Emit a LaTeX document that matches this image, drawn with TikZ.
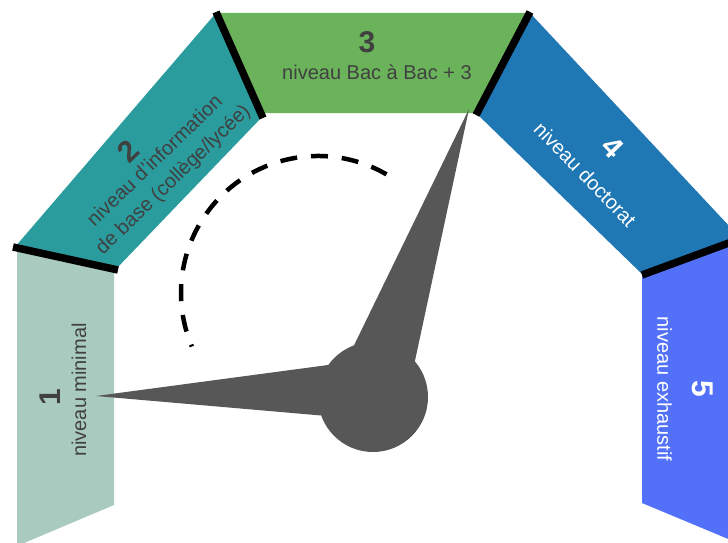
\documentclass[tikz,border=0pt]{standalone}
\usepackage{fontspec}
\setmainfont{Liberation Sans}

\definecolor{seggray}{HTML}{A9CABE}
\definecolor{segteal}{HTML}{2A9C9E}
\definecolor{seggreen}{HTML}{6BB35A}
\definecolor{segblue}{HTML}{1F77B4}
\definecolor{segviolet}{HTML}{5271F8}
\definecolor{needlegray}{HTML}{575757}
\definecolor{darktext}{HTML}{404040}

\newcommand{\lvlnum}[1]{{\fontsize{30}{30}\selectfont\bfseries #1}}

\begin{document}
\begin{tikzpicture}[x=1pt, y=-1pt,
        lvl/.style={align=center, inner sep=0pt, font=\fontsize{20}{24}\selectfont},
        bar/.style={line width=7.5pt, black},
        arcdash/.style={line width=4.5pt, black, dash pattern=on 17pt off 13.9pt}]
            \useasboundingbox (0,0) rectangle (728,543);
            \clip (0,0) rectangle (728,543);

            % Ends of the black bars between the levels
            \coordinate (o12) at (13,247);
            \coordinate (i12) at (118,270);
            \coordinate (o23) at (216,12);
            \coordinate (i23) at (263,118);
            \coordinate (o34) at (530,12);
            \coordinate (i34) at (476,115);
            \coordinate (o45) at (745,237);
            \coordinate (i45) at (642,275);

            % The five levels of the dial
            \fill[seggray] (17,248) -- (114,268) -- (114,505) -- (17,546) -- cycle;
            \fill[segteal] (15,247) -- (116,269) -- (263,116) -- (216,13) -- cycle;
            \fill[seggreen] (216,13) -- (531,13) -- (477,113) -- (263,113) -- cycle;
            \fill[segblue] (530,13) -- (745,243) -- (642,274) -- (477,114) -- cycle;
            \fill[segviolet] (642,274) -- (745,237) -- (745,546) -- (642,503) -- cycle;

            \foreach \a/\b in {o12/i12, o23/i23, o34/i34, o45/i45} {
                \draw[bar] (\a) -- (\b);
            }

            % Dashed arc
            \coordinate (arcc) at (318,293);
            \draw[arcdash] (arcc) ++(-60:137) arc[start angle=-60, end angle=-203, radius=137];

            % Needles and hub
            \coordinate (tip1) at (96,396);
            \coordinate (tip3) at (469,109);
            \fill[needlegray] (tip1) -- (373,359) -- (373,420) -- cycle;
            \fill[needlegray] (tip3) -- (413,370) -- (342,370) -- cycle;
            \node[circle, fill=needlegray, minimum size=110pt, inner sep=0pt] (hub) at (373,397) {};

            % Labels
            \node[lvl, text=darktext, rotate=90] (lvl1) at (63,390) {\lvlnum{1}\hspace*{14pt}\\[2pt]niveau minimal};
            \node[lvl, text=darktext, rotate=44] (lvl2) at (155,161) {\lvlnum{2}\hspace*{24pt}\\[-3pt]niveau d'information\\[2pt]de base (collège/lycée)};
            \node[lvl, text=darktext] (lvl3) at (377,56) {\lvlnum{3}\hspace*{20pt}\\[3pt]niveau Bac à Bac + 3};
            \node[lvl, text=white, rotate=-46] (lvl4) at (600,160) {\lvlnum{4}\\[11pt]niveau doctorat};
            \node[lvl, text=white, rotate=-90] (lvl5) at (685,389) {\lvlnum{5}\\[11pt]niveau exhaustif};
        \end{tikzpicture}
\end{document}
